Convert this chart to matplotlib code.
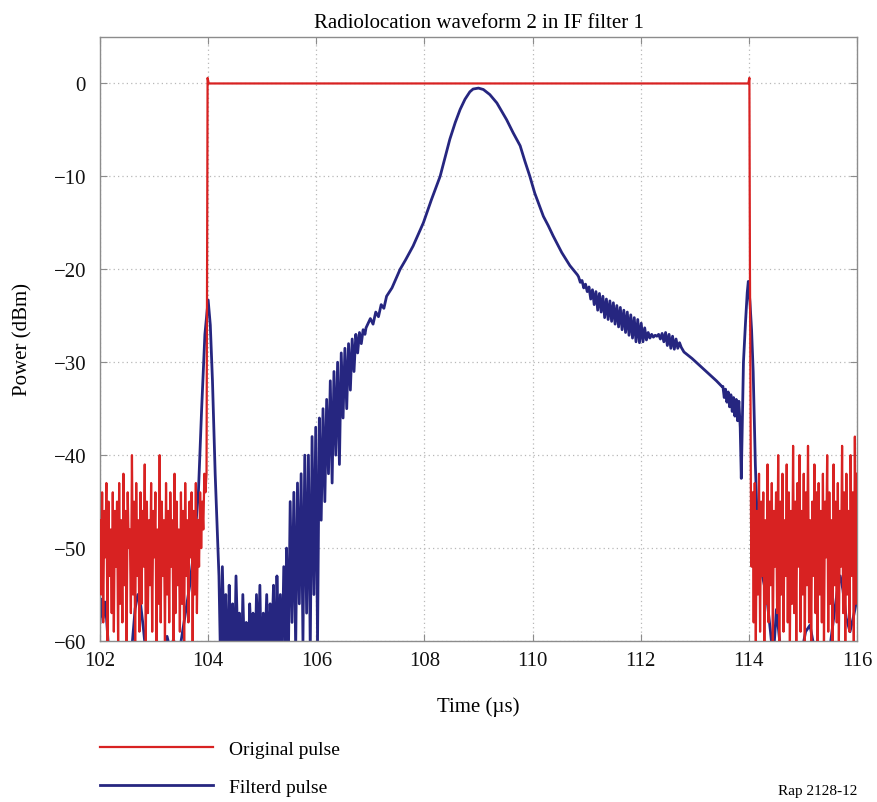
import numpy as np
import matplotlib
matplotlib.use('Agg')
import matplotlib.pyplot as plt
import matplotlib as mpl

mpl.rc('font', **{'family': 'serif', 'serif': ['Liberation Serif', 'DejaVu Serif']})
mpl.rcParams['axes.unicode_minus'] = True

# plot configuration
red = '#d82222'
navy = '#262680'
gridCol = '#b8b8b8'
spineCol = '#8c8c8c'

# ---- original pulse (red) ----
# noise floor before the pulse, 102.0 .. 103.95 us
red_left = [-47, -55, -44, -58, -46, -51, -43, -60, -45, -53, -48, -57, -44, -59, -46, -52,
            -45, -60, -43, -56, -47, -58, -42, -54, -46, -60, -44, -50, -48, -57, -40, -55,
            -45, -60, -43, -53, -47, -59, -44, -56, -46, -52, -41, -60, -45, -57, -47, -54,
            -43, -59, -46, -51, -44, -60, -48, -56, -40, -58, -45, -53, -47, -60, -43, -55,
            -46, -58, -44, -52, -47, -60, -42, -57, -45, -54, -48, -59, -44, -56, -46, -60,
            -43, -53, -47, -58, -45, -51, -44, -60, -46, -55, -43, -57, -47, -52, -44, -50,
            -45, -48, -42, -44]
# pulse edges and top
red_edge_t = [103.97, 103.99, 104.01, 113.99, 114.01, 114.02, 114.04]
red_edge_v = [-42, 0.6, 0.0, 0.0, 0.6, -20, -47]
# noise floor after the pulse, 114.05 .. 116.0 us
red_right = [-52, -44, -58, -43, -60, -46, -55, -42, -59, -45, -53, -44, -60, -47, -56, -41,
             -58, -45, -54, -43, -60, -46, -52, -44, -57, -40, -60, -45, -55, -42, -59, -47,
             -53, -41, -58, -44, -60, -46, -56, -39, -57, -45, -60, -43, -52, -40, -59, -46,
             -55, -42, -60, -44, -54, -39, -58, -47, -60, -45, -53, -41, -57, -44, -60, -43,
             -55, -46, -58, -42, -60, -45, -51, -40, -59, -44, -56, -47, -60, -41, -54, -45,
             -58, -43, -60, -46, -52, -39, -57, -44, -60, -42, -55, -46, -59, -40, -53, -44,
             -60, -38, -56, -42]

# ---- filtered pulse (blue) ----
b1_t = [102.0, 102.03, 102.06, 102.09, 102.12, 102.16, 102.2, 102.3, 102.45, 102.6, 102.65,
        102.7, 102.75, 102.8, 102.86, 103.0, 103.15, 103.24, 103.3, 103.36, 103.42, 103.5,
        103.58, 103.66, 103.74, 103.82, 103.88, 103.94, 104.0, 104.04, 104.08, 104.13, 104.18]
b1_v = [-58, -55.5, -57.5, -55.8, -57.5, -61, -64, -66, -64, -60, -56.5, -55, -56, -58.5, -62,
        -65, -62, -59.5, -61, -59.8, -62, -60, -57, -54, -50, -44, -35, -27, -23.3, -26, -32,
        -42, -50]
# ringing 104.2 .. 105.45
bA = [-53, -63, -52, -60, -55, -66, -54, -61, -56, -64, -53, -60, -57, -65, -55, -62, -58,
      -66, -56, -60, -57, -64, -55, -62, -54, -65, -57, -61, -55, -63, -56, -60, -54, -66,
      -53, -61, -55, -63, -52, -60]
# ringing 105.45 .. 106.9
bB = [-50, -62, -45, -58, -44, -61, -43, -56, -42, -60, -40, -57, -40, -61, -38, -55, -37,
      -60, -36, -47, -35, -45, -34, -42, -32, -43, -31, -40, -30, -41, -29, -36, -28.5, -35,
      -28, -33, -27.5, -31, -27, -29, -26.8, -28, -26.5, -27]
# main lobe
b2_t = [106.92, 107.0, 107.05, 107.1, 107.15, 107.2, 107.25, 107.3, 107.4, 107.55, 107.65,
        107.79, 107.98, 108.13, 108.29, 108.38, 108.47, 108.57, 108.66, 108.75, 108.84, 108.9,
        109.0, 109.09, 109.21, 109.34, 109.52, 109.64, 109.77, 109.86, 109.95, 110.04, 110.2,
        110.29, 110.38, 110.54, 110.69, 110.83]
b2_v = [-26.3, -25.3, -25.9, -24.6, -25.1, -23.8, -24.2, -22.9, -22.0, -20.0, -19.0, -17.5,
        -15.0, -12.5, -10.0, -8.0, -6.0, -4.2, -2.8, -1.7, -0.9, -0.6, -0.5, -0.65, -1.2, -2.1,
        -3.9, -5.3, -6.7, -8.4, -10.0, -11.8, -14.3, -15.3, -16.4, -18.2, -19.6, -20.6]
# ripple band 110.85 .. 112.75
bC = [-20.8, -21.4, -21.2, -22.0, -21.6,
      -22.4, -21.9, -23.2, -22.2, -23.8, -22.4, -24.4, -22.6,
      -24.6, -22.9, -25.2, -23.2, -25.4, -23.4, -25.6, -23.6,
      -25.9, -23.9, -26.2, -24.1, -26.5, -24.4, -26.8, -24.6,
      -27.1, -24.9, -27.4, -25.2, -27.8, -25.4, -27.9, -25.8,
      -27.8, -26.3, -27.6, -26.8, -27.4, -27.0, -27.3, -27.1,
      -27.2, -27.0, -27.5, -26.9, -27.8, -26.8, -28.2, -27.0,
      -28.5, -27.2, -28.6, -27.5, -28.5, -27.9, -28.4]
b3_t = [112.8, 112.95, 113.1, 113.25, 113.4, 113.5]
b3_v = [-28.9, -29.6, -30.4, -31.2, -32.0, -32.6]
# ripple 113.52 .. 113.84
bD = [-32.6, -33.8, -32.9, -34.3, -33.2, -34.8, -33.5, -35.3, -33.8, -35.8, -34.0, -36.3,
      -34.2, -37]
b4_t = [113.86, 113.9, 113.94, 113.97, 113.99, 114.02, 114.05, 114.08, 114.12, 114.17,
        114.25, 114.33, 114.4, 114.45, 114.51, 114.57, 114.65, 114.8, 114.95, 115.05, 115.13,
        115.2, 115.3, 115.45, 115.58, 115.65, 115.69, 115.74, 115.8, 115.87, 115.93, 116.0]
b4_v = [-42.5, -30, -25.5, -22.5, -21.3, -23.5, -26.5, -31, -41, -49.8, -53, -55.2, -59, -62,
        -56.6, -60, -64, -66, -62, -59, -58.3, -60.5, -64, -63, -57, -54, -53, -54.5, -57.5,
        -59, -57.5, -55.5]

# assemble series
red_t = np.concatenate([np.linspace(102.0, 103.95, len(red_left)), red_edge_t,
                        np.linspace(114.05, 116.0, len(red_right))])
red_v = np.concatenate([red_left, red_edge_v, red_right])

blue_t = np.concatenate([b1_t, np.linspace(104.2, 105.43, len(bA)),
                         np.linspace(105.45, 106.9, len(bB)), b2_t,
                         np.linspace(110.85, 112.75, len(bC)), b3_t,
                         np.linspace(113.52, 113.84, len(bD)), b4_t])
blue_v = np.concatenate([b1_v, bA, bB, b2_v, bC, b3_v, bD, b4_v])

fig = plt.figure(figsize=(8.78, 8.03), dpi=100)
ax = fig.add_axes([100/878, 1-642/803, 757/878, 604/803])

lb, = ax.plot(blue_t, blue_v, color=navy, lw=2.0, label='Filterd pulse', zorder=2)
lr, = ax.plot(red_t, red_v, color=red, lw=1.6, label='Original pulse', zorder=3)

ax.set_xlim(102, 116)
ax.set_ylim(-60, 5)
ax.set_xticks(np.arange(102, 117, 2))
ax.set_yticks(np.arange(-60, 1, 10))
ax.grid(True, linestyle=(0, (1, 2.5)), color=gridCol, linewidth=0.9)
for s in ax.spines.values():
  s.set_color(spineCol)
  s.set_linewidth(1.0)
ax.tick_params(direction='in', top=True, right=True, length=5, color=spineCol,
               labelsize=15, labelcolor='#111111')
ax.tick_params(axis='x', pad=7)
ax.tick_params(axis='y', pad=10)

ax.set_title('Radiolocation waveform 2 in IF filter 1', fontsize=15, pad=7)
ax.set_xlabel('Time (µs)', fontsize=15, labelpad=19)
ax.set_ylabel('Power (dBm)', fontsize=15, labelpad=15)

fig.legend(handles=[lr, lb], loc='upper left', bbox_to_anchor=(100/878, 1-741/803),
           frameon=False, fontsize=14, handlelength=5.8, handletextpad=0.85,
           labelspacing=1.08, borderpad=0, borderaxespad=0)
fig.text(857/878, 1-795/803, 'Rap 2128-12', ha='right', va='baseline', fontsize=11)

fig.savefig('out.png', dpi=100)
